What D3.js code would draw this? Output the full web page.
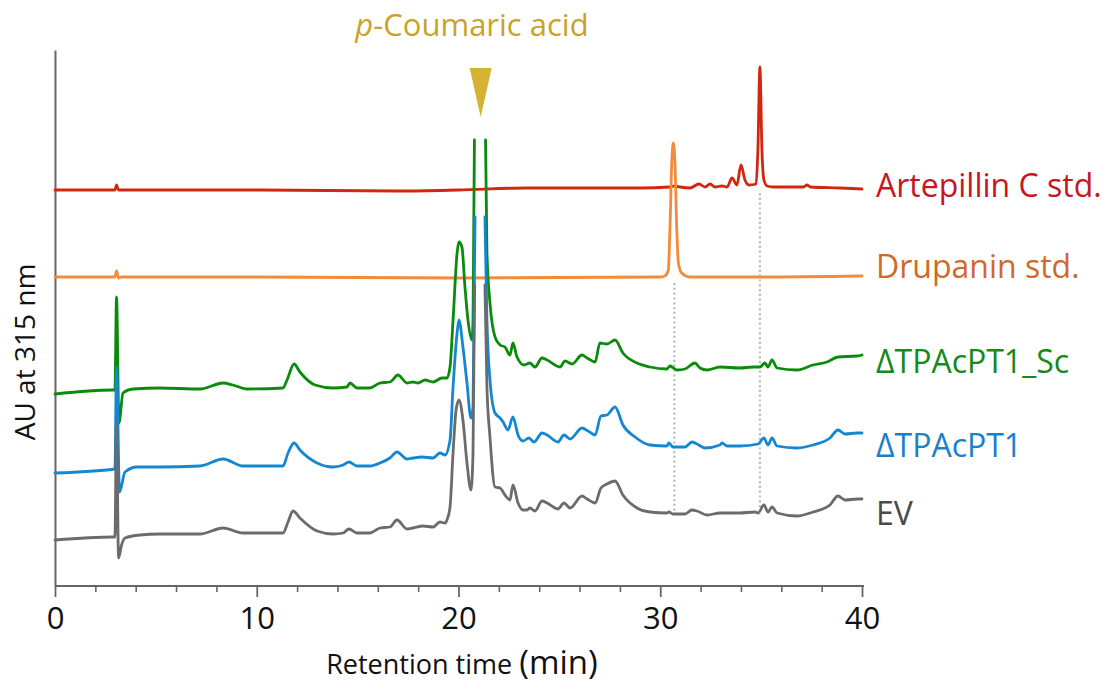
<!DOCTYPE html>
<html>
<head>
<meta charset="utf-8">
<script src="https://cdn.jsdelivr.net/npm/d3@7"></script>
<style>
  html, body { margin: 0; padding: 0; background: #fff; }
  svg { display: block; font-family: "Open Sans", sans-serif; }
</style>
</head>
<body>
<svg id="chart" width="1112" height="688"></svg>
<script>
// HPLC chromatograms (absorbance at 315 nm), stacked with a fixed baseline offset per trace.
// Each trace: [retention time (min), signal above its own baseline]; null = detector off-scale.

const traceNames = ["EV", "ΔTPAcPT1", "ΔTPAcPT1_Sc", "Drupanin std.", "Artepillin C std."];
const stackOffsets = [46, 116, 193, 309, 396];

const evTrace = [
  [0,0],[2.87,3],[2.97,3],[3.05,117],[3.15,-18],[3.3,-5],[3.47,2],[4.21,5],[5.2,6],[7.19,6],
  [8.33,12],[9.32,7],[11.3,7],[11.55,18],[11.8,29],[12.14,22],[12.99,9],[13.78,6],[14.28,7],
  [14.57,11],[14.97,7],[15.61,7],[16.11,12],[16.6,13],[16.95,20],[17.45,11],[17.74,12],[18.24,14],
  [18.74,13],[19.08,18],[19.33,17],[19.43,20],[19.58,33],[19.73,87],[19.88,130],[20.02,140],
  [20.22,120],[20.42,77],[20.62,50],[20.72,87],[20.8,255],[21.05,null],[21.31,255],[21.41,153],
  [21.56,103],[21.81,53],[22.06,52],[22.3,45],[22.55,40],[22.7,55],[22.95,37],[23.2,30],[23.4,30],
  [23.54,32],[23.79,29],[24.14,39],[24.39,37],[24.93,31],[25.23,37],[25.53,32],[26.12,44],
  [26.37,41],[26.77,37],[27.06,52],[27.36,56],[27.76,59],[28.15,45],[28.85,32],[29.49,28],
  [30.33,27],[30.43,28],[30.63,26],[31.23,26],[31.57,30],[31.82,29],[32.32,25],[32.96,27],
  [33.95,27],[34.7,28],[34.85,27],[35.14,35],[35.34,28],[35.54,33],[35.79,27],[36.78,24],
  [37.57,28],[38.41,35],[38.81,44],[39.16,40],[39.75,41],[40,41]
];

const ptTrace = [
  [0,-3],[2.97,1],[3.05,103],[3.2,-22],[3.47,-2],[4.06,3],[5.2,3],[7.19,4],[8.33,11],[9.32,4],
  [11.3,4],[11.55,17],[11.85,27],[12.14,20],[12.99,7],[13.78,3],[14.28,5],[14.57,8],[14.97,4],
  [15.61,4],[16.11,7],[16.6,12],[16.95,18],[17.45,11],[17.74,12],[18.19,13],[18.74,12],[19.08,17],
  [19.33,15],[19.58,30],[19.73,83],[19.93,137],[20.02,150],[20.22,123],[20.42,87],[20.62,52],
  [20.72,63],[20.82,253],[21.05,null],[21.31,253],[21.41,150],[21.56,90],[21.81,57],[22.06,52],
  [22.21,48],[22.45,40],[22.7,53],[22.95,35],[23.2,29],[23.49,32],[23.74,28],[24.14,37],[24.39,35],
  [24.93,28],[25.23,35],[25.53,31],[26.12,42],[26.42,39],[26.77,35],[27.06,54],[27.36,55],
  [27.76,63],[28.15,45],[28.75,33],[29.49,25],[30.33,24],[30.43,27],[30.63,23],[31.23,23],
  [31.57,28],[31.82,26],[32.22,22],[32.96,25],[33.06,27],[33.31,24],[33.95,24],[34.85,26],
  [35.14,32],[35.34,25],[35.54,32],[35.79,24],[36.78,22],[37.57,25],[38.41,32],[38.81,40],
  [39.16,36],[39.75,37],[40,37]
];

const scTrace = [
  [0,-1],[2.87,3],[2.97,3],[3.05,96],[3.17,-30],[3.37,0],[3.87,4],[5.2,5],[7.19,4],[8.33,10],
  [8.82,8],[9.52,4],[11.3,5],[11.5,13],[11.85,29],[12.14,21],[12.89,8],[13.78,5],[14.47,6],
  [14.62,10],[14.97,5],[15.61,5],[16.11,10],[16.6,11],[17.0,18],[17.45,10],[17.74,11],[17.99,10],
  [18.34,13],[18.74,11],[19.18,15],[19.43,15],[19.58,26],[19.73,73],[19.93,140],[20.02,151],
  [20.17,146],[20.32,106],[20.47,73],[20.67,53],[20.72,73],[20.79,253],[21.05,null],[21.34,253],
  [21.41,140],[21.56,90],[21.81,56],[22.06,48],[22.3,46],[22.55,38],[22.7,50],[22.9,36],[23.25,28],
  [23.54,30],[23.79,26],[24.14,35],[24.39,33],[25.03,26],[25.28,32],[25.63,29],[26.12,38],
  [26.37,35],[26.77,31],[27.01,50],[27.36,49],[27.76,53],[28.15,40],[28.85,30],[29.49,26],
  [30.33,24],[30.48,27],[30.83,23],[31.23,24],[31.72,30],[31.97,25],[32.32,23],[32.96,26],
  [33.95,25],[34.6,26],[34.94,26],[35.19,30],[35.34,26],[35.54,33],[35.79,25],[36.78,23],
  [37.57,28],[38.26,31],[38.81,36],[39.75,37],[40,38]
];

const drupaninTrace = [
  [0,0],[2.97,0],[3.05,6],[3.15,-1],[3.3,0],[10,0],[20,-1],[30.0,0],[30.23,1],[30.4,7],
  [30.48,47],[30.57,114],[30.65,134],[30.73,114],[30.82,47],[30.9,14],[31.06,4],[31.47,0],
  [35,0],[40,1]
];

const artepillinTrace = [
  [0,0],[2.97,0],[3.05,5],[3.15,0],[10,0],[17.1,-1],[20,0],[23.4,2],[29,2],[30.48,3],[30.73,4],
  [30.98,3],[31.47,2],[31.92,6],[32.22,3],[32.47,6],[32.71,3],[33.06,4],[33.31,3],[33.56,12],
  [33.8,5],[34.0,25],[34.2,10],[34.4,5],[34.75,6],[34.84,40],[34.94,123],[35.04,40],[35.14,10],
  [35.3,4],[35.59,3],[37.1,3],[37.27,5],[37.45,3],[38.91,2],[40,1]
];

const traces = [evTrace, ptTrace, scTrace, drupaninTrace, artepillinTrace];

// Retention times of the reference compounds
const coumaricTime = 21.1;
const guideTimes = [30.7, 34.94];
const guideTop = [303, 393];
const guideBottom = [71, 71];

const xTicksMajor = [0, 10, 20, 30, 40];
const xTicksMinor = [2, 4, 6, 8, 12, 14, 16, 18, 22, 24, 26, 28, 32, 34, 36, 38];

// ---- styling ----
const lineColors  = ["#6b6b6b", "#1487d0", "#0b8b0b", "#f28b3b", "#d3260f"];
const labelColors = ["#4a4a4a", "#1a7fcc", "#15891a", "#d0692a", "#c8161e"];
const labelBaselines = [525, 457, 373, 278, 197];
const axisColor = "#666";

const svg = d3.select("#chart");
const x = d3.scaleLinear().domain([0, 40]).range([55, 862]);
const y = d3.scaleLinear().domain([0, 536]).range([586, 50]);

// dotted guides through the standard peaks
svg.append("g").selectAll("line")
  .data(guideTimes)
  .join("line")
  .attr("x1", d => x(d)).attr("x2", d => x(d))
  .attr("y1", (d, i) => y(guideTop[i])).attr("y2", (d, i) => y(guideBottom[i]))
  .attr("stroke", "#bdbdbd").attr("stroke-width", 2.2).attr("stroke-dasharray", "2.2,2.6");

// axes
const yAxis = svg.append("g").attr("transform", `translate(${x(0)},0)`)
  .call(d3.axisLeft(y).tickValues([]).tickSizeOuter(0));
yAxis.select(".domain").attr("stroke", axisColor).attr("stroke-width", 2);

const xMinor = svg.append("g").attr("transform", `translate(0,${y(0)})`)
  .call(d3.axisBottom(x).tickValues(xTicksMinor).tickSize(6).tickSizeOuter(0).tickFormat(""));
xMinor.select(".domain").attr("stroke", axisColor).attr("stroke-width", 2)
  .attr("d", `M${x(0)},0H${x(40) + 2}`);
xMinor.selectAll(".tick line").attr("stroke", axisColor).attr("stroke-width", 1.6);

const xMajor = svg.append("g").attr("transform", `translate(0,${y(0)})`)
  .call(d3.axisBottom(x).tickValues(xTicksMajor).tickSize(11).tickPadding(10).tickSizeOuter(0));
xMajor.select(".domain").remove();
xMajor.selectAll(".tick line").attr("stroke", axisColor).attr("stroke-width", 1.8);
xMajor.selectAll(".tick text")
  .attr("font-family", "'Open Sans', sans-serif")
  .attr("font-size", 31).attr("fill", "#111");

// axis titles
const xTitle = svg.append("text")
  .attr("x", 462).attr("y", 674).attr("text-anchor", "middle").attr("fill", "#111");
xTitle.append("tspan").attr("font-size", 27).text("Retention time ");
xTitle.append("tspan").attr("font-size", 33).text("(min)");

svg.append("text")
  .attr("transform", "translate(35,352) rotate(-90)")
  .attr("text-anchor", "middle").attr("font-size", 28).attr("fill", "#111")
  .text("AU at 315 nm");

// chromatograms: standards first, then samples with EV on top
const line = d3.line()
  .defined(d => d[1] !== null)
  .x(d => x(d[0]))
  .y(d => y(d[1]))
  .curve(d3.curveMonotoneX);

const drawOrder = [4, 3, 2, 1, 0];
svg.append("g").selectAll("path")
  .data(drawOrder)
  .join("path")
  .attr("fill", "none")
  .attr("stroke", i => lineColors[i])
  .attr("stroke-width", 2.8)
  .attr("stroke-linejoin", "round")
  .attr("stroke-linecap", "round")
  .attr("d", i => line(traces[i].map(p => [p[0], p[1] === null ? null : p[1] + stackOffsets[i]])));

// trace labels
svg.append("g").selectAll("text")
  .data(traceNames)
  .join("text")
  .attr("x", 876)
  .attr("y", (d, i) => labelBaselines[i])
  .attr("font-size", 32)
  .attr("fill", (d, i) => labelColors[i])
  .text(d => d);

// p-coumaric acid marker
const cx = x(coumaricTime);
svg.append("path")
  .attr("d", `M${cx - 11},68L${cx + 11},68L${cx},117Z`)
  .attr("fill", "#d4b232");

const title = svg.append("text")
  .attr("x", 472).attr("y", 36).attr("text-anchor", "middle")
  .attr("font-size", 31).attr("fill", "#c9a327");
title.append("tspan").attr("font-style", "italic").text("p");
title.append("tspan").text("-Coumaric acid");
</script>
</body>
</html>
